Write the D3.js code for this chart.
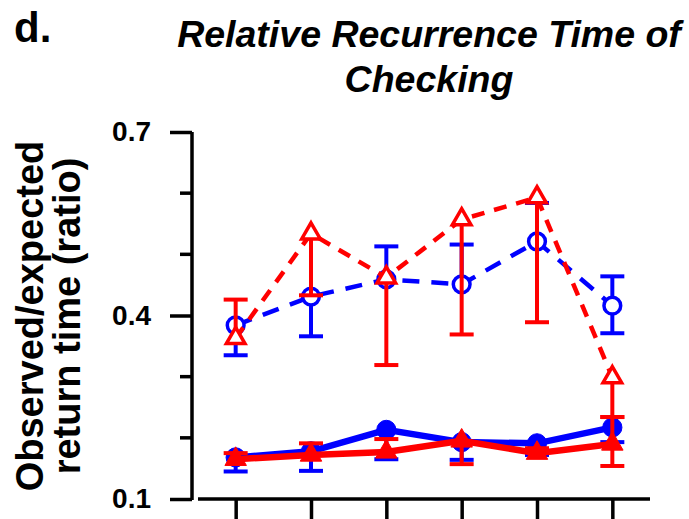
<!DOCTYPE html>
<html>
<head>
<meta charset="utf-8">
<script src="https://cdn.jsdelivr.net/npm/d3@7"></script>
<style>
  body { margin: 0; background: #fff; }
  svg { display: block; font-family: "Liberation Sans", Arial, sans-serif; }
</style>
</head>
<body>
<svg width="689" height="519"></svg>
<script>
const width = 689;
const height = 519;

// data
const categories = [1, 2, 3, 4, 5, 6];
const yTicks = [0.1, 0.4, 0.7];
const yMinorTicks = [0.2, 0.3, 0.5, 0.6];

// blue dashed, open circles
const blueOpen     = [0.384, 0.431, 0.459, 0.451, 0.521, 0.416];
const blueOpenLow  = [0.335, 0.366, null, null, null, 0.371];
const blueOpenHigh = [null, null, 0.513, 0.516, 0.584, 0.464];

// red dashed, open triangles
const redOpen     = [0.363, 0.534, 0.462, 0.557, 0.593, 0.299];
const redOpenLow  = [null, 0.433, 0.319, 0.369, 0.389, 0.234];
const redOpenHigh = [0.426, null, null, null, null, null];

// blue solid, filled circles
const blueFilled     = [0.168, 0.178, 0.213, 0.193, 0.191, 0.217];
const blueFilledLow  = [0.145, 0.146, 0.165, 0.164, 0.172, 0.193];
const blueFilledHigh = [null, null, null, null, null, null];

// red solid, filled triangles
const redFilled     = [0.165, 0.172, 0.177, 0.195, 0.175, 0.190];
const redFilledLow  = [null, null, null, 0.157, null, 0.154];
const redFilledHigh = [0.175, 0.191, 0.198, null, 0.183, 0.234];

const svg = d3.select("svg");

const x = d3.scaleLinear().domain([0.5, 6.5]).range([198, 650]);
const y = d3.scaleLinear().domain([0.1, 0.7]).range([499, 132]);

// --- axes ---
const yAxis = svg.append("g")
    .attr("transform", "translate(192,0)")
    .call(d3.axisLeft(y).tickValues(yTicks).tickSize(22).tickPadding(19).tickFormat(d3.format(".1f")));
yAxis.select(".domain").attr("d", `M0,${y(0.7)}V${y(0.1) + 1}`);
yAxis.selectAll("line, path").attr("stroke", "#000").attr("stroke-width", 3.5);
yAxis.selectAll("text")
    .attr("font-size", "28px")
    .attr("font-weight", "bold")
    .attr("fill", "#000");

svg.append("g")
    .selectAll("line")
    .data(yMinorTicks)
    .join("line")
    .attr("x1", 180).attr("x2", 192)
    .attr("y1", d => y(d)).attr("y2", d => y(d))
    .attr("stroke", "#000").attr("stroke-width", 3.5);

const xAxis = svg.append("g")
    .attr("transform", "translate(0,499)")
    .call(d3.axisBottom(x).tickValues(categories).tickSize(22).tickFormat(""));
xAxis.select(".domain").attr("d", "M198,0H650");
xAxis.selectAll("line, path").attr("stroke", "#000").attr("stroke-width", 3.5);

// --- series ---
function drawSeries(vals, low, high, opts) {
  const g = svg.append("g");
  const line = d3.line().x((d, i) => x(categories[i])).y(d => y(d));

  g.append("path")
      .datum(vals)
      .attr("fill", "none")
      .attr("stroke", opts.color)
      .attr("stroke-width", opts.lineWidth)
      .attr("stroke-dasharray", opts.dash || null)
      .attr("d", line);

  const bars = [];
  vals.forEach((v, i) => {
    if (low[i] != null) bars.push({ i, v, end: low[i] });
    if (high[i] != null) bars.push({ i, v, end: high[i] });
  });

  g.selectAll(".bar")
      .data(bars)
      .join("line")
      .attr("x1", d => x(categories[d.i])).attr("x2", d => x(categories[d.i]))
      .attr("y1", d => y(d.v)).attr("y2", d => y(d.end))
      .attr("stroke", opts.color).attr("stroke-width", 4);

  g.selectAll(".cap")
      .data(bars)
      .join("line")
      .attr("x1", d => x(categories[d.i]) - 12).attr("x2", d => x(categories[d.i]) + 12)
      .attr("y1", d => y(d.end)).attr("y2", d => y(d.end))
      .attr("stroke", opts.color).attr("stroke-width", 4);

  const sym = d3.symbol().type(opts.shape).size(opts.size);
  g.selectAll(".pt")
      .data(vals)
      .join("path")
      .attr("transform", (d, i) => `translate(${x(categories[i])},${y(d)})`)
      .attr("d", sym)
      .attr("fill", opts.filled ? opts.color : "#fff")
      .attr("stroke", opts.color)
      .attr("stroke-width", opts.filled ? 1 : 3.5);
}

drawSeries(blueOpen, blueOpenLow, blueOpenHigh,
  { color: "#0000ff", lineWidth: 4.5, dash: "17,12", shape: d3.symbolCircle, size: 220, filled: false });
drawSeries(blueFilled, blueFilledLow, blueFilledHigh,
  { color: "#0000ff", lineWidth: 6.5, shape: d3.symbolCircle, size: 290, filled: true });
drawSeries(redOpen, redOpenLow, redOpenHigh,
  { color: "#ff0000", lineWidth: 4.5, dash: "13,10", shape: d3.symbolTriangle, size: 150, filled: false });
drawSeries(redFilled, redFilledLow, redFilledHigh,
  { color: "#ff0000", lineWidth: 6.5, shape: d3.symbolTriangle, size: 200, filled: true });

// --- titles ---
svg.append("text")
    .attr("x", 14).attr("y", 42)
    .attr("font-size", "42px").attr("font-weight", "bold")
    .text("d.");

const title = svg.append("text")
    .attr("text-anchor", "middle")
    .attr("font-size", "37.5px").attr("font-weight", "bold").attr("font-style", "italic");
title.append("tspan").attr("x", 429).attr("y", 47).text("Relative Recurrence Time of");
title.append("tspan").attr("x", 429).attr("y", 92).text("Checking");

const ylab = svg.append("text")
    .attr("transform", "translate(0,316) rotate(-90)")
    .attr("text-anchor", "middle")
    .attr("font-size", "38px").attr("font-weight", "bold");
ylab.append("tspan").attr("x", 0).attr("y", 43).text("Observed/expected");
ylab.append("tspan").attr("x", 0).attr("y", 80).text("return time (ratio)");
</script>
</body>
</html>
